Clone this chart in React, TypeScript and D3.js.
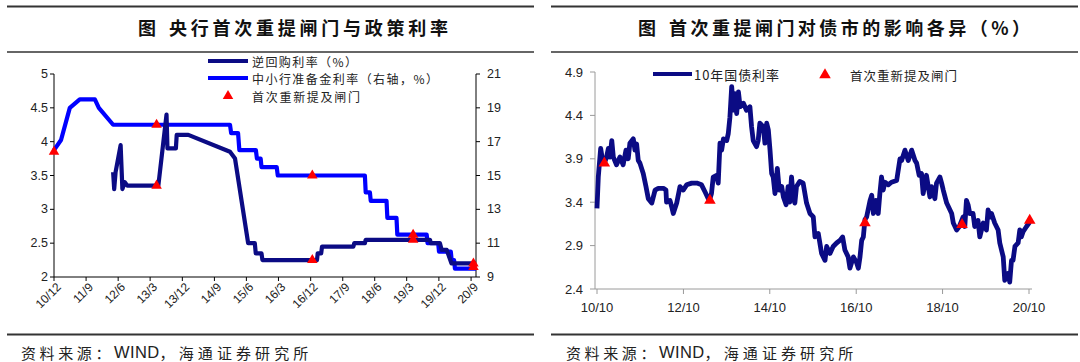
import React from "react";
import * as d3 from "d3";

// ---------- Left chart data ----------
const leftTickLabels = ["10/12", "11/9", "12/6", "13/3", "13/12", "14/9", "15/6", "16/3", "16/12", "17/9", "18/6", "19/3", "19/12", "20/9"];
const leftYTicks = [2, 2.5, 3, 3.5, 4, 4.5, 5];
const rightYTicks = [9, 11, 13, 15, 17, 19, 21];

// 7-day reverse repo rate (%)
const repoRate: [string, number][] = [
  ["2012-04-19", 3.55], ["2012-04-28", 3.3], ["2012-05-10", 3.55], ["2012-06-22", 3.95],
  ["2012-07-07", 3.3], ["2012-07-28", 3.4], ["2012-08-19", 3.35], ["2013-05-10", 3.35],
  ["2013-07-19", 4.4], ["2013-07-27", 3.9], ["2013-10-07", 3.9], ["2013-10-14", 4.1],
  ["2014-01-21", 4.1], ["2015-01-12", 3.85], ["2015-02-24", 3.75], ["2015-06-16", 2.5],
  ["2015-08-12", 2.5], ["2015-08-20", 2.35], ["2015-10-08", 2.35], ["2015-10-16", 2.25],
  ["2017-01-24", 2.25], ["2017-01-30", 2.35], ["2017-03-01", 2.35], ["2017-03-08", 2.45],
  ["2017-12-01", 2.45], ["2017-12-08", 2.5], ["2018-03-09", 2.5], ["2018-03-16", 2.55],
  ["2019-09-16", 2.55], ["2019-09-23", 2.5], ["2019-12-10", 2.5], ["2019-12-25", 2.4],
  ["2020-02-06", 2.4], ["2020-03-18", 2.2], ["2020-10-13", 2.2],
];

// Small/medium bank reserve requirement ratio (%, right axis)
const reserveRatio: [string, number][] = [
  ["2010-12-01", 16.5], ["2011-01-30", 17.1], ["2011-04-15", 19.0], ["2011-07-09", 19.5],
  ["2011-11-15", 19.5], ["2011-12-19", 19.0], ["2012-04-19", 18.0], ["2015-01-12", 18.0],
  ["2015-01-22", 17.5], ["2015-03-22", 17.5], ["2015-04-02", 16.5], ["2015-08-21", 16.5],
  ["2015-08-30", 16.0], ["2015-10-01", 16.0], ["2015-10-08", 15.5], ["2016-02-15", 15.5],
  ["2016-02-24", 15.0], ["2018-03-09", 15.0], ["2018-03-16", 14.0], ["2018-04-21", 14.0],
  ["2018-04-28", 13.5], ["2018-09-10", 13.5], ["2018-09-17", 12.5], ["2018-12-04", 12.5],
  ["2018-12-11", 11.5], ["2019-08-19", 11.5], ["2019-08-26", 11.0], ["2019-11-25", 11.0],
  ["2019-12-02", 10.5], ["2020-03-12", 10.5], ["2020-03-19", 10.0], ["2020-04-09", 10.0],
  ["2020-04-16", 9.5], ["2020-10-13", 9.5],
];

const gateOnRepo: [string, number][] = [
  ["2013-04-25", 3.35], ["2016-12-15", 2.25], ["2019-04-25", 2.55], ["2020-09-21", 2.2],
];
const gateOnReserve: [string, number][] = [
  ["2010-12-01", 16.4], ["2013-04-25", 18.0], ["2016-12-15", 15.0], ["2019-04-25", 11.5], ["2020-09-21", 9.6],
];

// ---------- Right chart data ----------
const bondXTickLabels = ["10/10", "12/10", "14/10", "16/10", "18/10", "20/10"];
const bondYTicks = [2.4, 2.9, 3.4, 3.9, 4.4, 4.9];

// 10Y government bond yield (%)
const bondYield: [string, number][] = [
  ["2010-10-01", 3.33], ["2010-10-12", 3.69], ["2010-11-01", 4.02], ["2010-11-15", 3.9],
  ["2010-12-02", 3.85], ["2010-12-21", 3.92], ["2011-01-05", 4.02], ["2011-01-19", 3.92],
  ["2011-02-03", 4.11], ["2011-02-16", 3.92], ["2011-03-15", 3.83], ["2011-04-13", 3.92],
  ["2011-05-10", 3.83], ["2011-06-03", 4.0], ["2011-06-22", 3.9], ["2011-07-06", 4.08],
  ["2011-08-04", 4.13], ["2011-08-18", 4.0], ["2011-09-01", 4.07], ["2011-09-15", 3.88],
  ["2011-09-29", 3.85], ["2011-10-27", 3.73], ["2011-11-19", 3.58], ["2011-12-09", 3.44],
  ["2012-01-07", 3.39], ["2012-02-04", 3.54], ["2012-03-02", 3.56], ["2012-04-14", 3.56],
  ["2012-05-06", 3.54], ["2012-05-11", 3.4], ["2012-06-09", 3.42], ["2012-06-23", 3.35],
  ["2012-07-07", 3.27], ["2012-08-05", 3.39], ["2012-09-02", 3.58], ["2012-09-30", 3.54],
  ["2012-10-28", 3.6], ["2012-12-10", 3.62], ["2013-01-22", 3.62], ["2013-03-03", 3.6],
  ["2013-04-01", 3.52], ["2013-04-29", 3.44], ["2013-05-13", 3.44], ["2013-05-26", 3.5],
  ["2013-06-10", 3.69], ["2013-07-08", 3.71], ["2013-07-22", 3.62], ["2013-08-06", 4.08],
  ["2013-08-20", 4.0], ["2013-09-04", 4.13], ["2013-10-02", 4.11], ["2013-10-15", 4.19],
  ["2013-10-29", 4.38], ["2013-11-13", 4.73], ["2013-11-27", 4.46], ["2013-12-11", 4.65],
  ["2013-12-25", 4.42], ["2014-01-09", 4.67], ["2014-01-23", 4.5], ["2014-02-20", 4.54],
  ["2014-03-18", 4.46], ["2014-04-16", 4.5], ["2014-04-30", 4.27], ["2014-05-14", 4.11],
  ["2014-06-11", 4.04], ["2014-06-25", 4.11], ["2014-07-09", 4.31], ["2014-08-07", 4.27],
  ["2014-08-21", 4.08], ["2014-09-05", 4.31], ["2014-09-19", 4.23], ["2014-10-03", 4.0],
  ["2014-10-17", 3.73], ["2014-10-30", 3.69], ["2014-11-14", 3.5], ["2014-12-04", 3.79],
  ["2014-12-20", 3.54], ["2015-01-10", 3.58], ["2015-01-24", 3.46], ["2015-02-16", 3.37],
  ["2015-03-05", 3.58], ["2015-03-19", 3.4], ["2015-04-03", 3.69], ["2015-04-17", 3.46],
  ["2015-05-01", 3.39], ["2015-05-15", 3.58], ["2015-06-12", 3.64], ["2015-07-10", 3.62],
  ["2015-08-08", 3.39], ["2015-09-06", 3.27], ["2015-10-04", 3.23], ["2015-10-18", 3.0],
  ["2015-11-15", 3.04], ["2015-12-13", 2.81], ["2016-01-11", 2.73], ["2016-01-25", 2.89],
  ["2016-02-22", 2.81], ["2016-03-20", 2.89], ["2016-04-18", 2.93], ["2016-05-16", 2.96],
  ["2016-06-08", 3.0], ["2016-06-27", 2.85], ["2016-07-25", 2.77], ["2016-08-09", 2.64],
  ["2016-09-07", 2.77], ["2016-10-05", 2.7], ["2016-10-19", 2.64], ["2016-11-02", 2.77],
  ["2016-11-16", 2.96], ["2016-11-30", 3.0], ["2016-12-14", 3.2], ["2016-12-28", 3.23],
  ["2017-01-26", 3.42], ["2017-02-09", 3.48], ["2017-02-23", 3.27], ["2017-03-16", 3.42],
  ["2017-04-05", 3.27], ["2017-04-19", 3.5], ["2017-05-03", 3.69], ["2017-05-17", 3.54],
  ["2017-06-01", 3.63], ["2017-06-29", 3.6], ["2017-07-26", 3.63], ["2017-09-08", 3.65],
  ["2017-10-06", 3.9], ["2017-10-20", 3.88], ["2017-11-17", 4.0], ["2017-12-15", 3.88],
  ["2018-01-13", 4.0], ["2018-02-10", 3.88], ["2018-02-24", 3.85], ["2018-03-17", 3.71],
  ["2018-04-06", 3.73], ["2018-04-20", 3.5], ["2018-05-18", 3.71], ["2018-06-16", 3.46],
  ["2018-06-30", 3.58], ["2018-07-28", 3.44], ["2018-08-11", 3.62], ["2018-09-09", 3.69],
  ["2018-09-23", 3.62], ["2018-10-07", 3.54], ["2018-11-05", 3.39], ["2018-11-19", 3.35],
  ["2018-12-17", 3.27], ["2018-12-31", 3.16], ["2019-01-28", 3.08], ["2019-02-20", 3.12],
  ["2019-03-24", 3.23], ["2019-04-07", 3.12], ["2019-04-21", 3.42], ["2019-05-05", 3.37],
  ["2019-05-19", 3.27], ["2019-06-16", 3.27], ["2019-06-30", 3.12], ["2019-07-28", 3.19],
  ["2019-08-12", 3.0], ["2019-09-10", 3.16], ["2019-10-07", 3.08], ["2019-10-21", 3.31],
  ["2019-11-10", 3.23], ["2019-11-19", 3.27], ["2019-12-16", 3.16], ["2020-01-14", 3.08],
  ["2020-01-28", 2.93], ["2020-02-26", 2.77], ["2020-03-10", 2.5], ["2020-04-07", 2.58],
  ["2020-04-21", 2.48], ["2020-05-06", 2.73], ["2020-05-19", 2.73], ["2020-06-04", 2.89],
  ["2020-07-01", 2.93], ["2020-07-15", 3.08], ["2020-07-28", 3.0], ["2020-08-12", 3.06],
  ["2020-09-10", 3.12], ["2020-10-07", 3.17],
];

const bondGateMarks: [string, number][] = [
  ["2010-12-02", 3.85], ["2013-05-13", 3.42], ["2016-12-14", 3.16], ["2019-03-15", 3.14], ["2020-10-07", 3.19],
];

const NAVY = "#0b0b84";
const BLUE = "#0000ff";
const RED = "#ff0000";
const CJK = "'Noto Sans CJK SC', 'Noto Sans', sans-serif";
const LAT = "'Liberation Sans', Arial, sans-serif";

const parseDate = d3.timeParse("%Y-%m-%d");
const parseYM = (s: string) => {
  const [y, m] = s.split("/").map(Number);
  return new Date(2000 + y, m - 1, 1);
};

function SourceNote({ x, y }: { x: number; y: number }) {
  return (
    <text x={x} y={y} dominantBaseline="central" fill="#222" fontSize={15} fontFamily={CJK}>
      <tspan letterSpacing={3.6}>资料来源：</tspan>
      <tspan fontFamily={LAT} fontSize={16.5} letterSpacing={0.4}>WIND</tspan>
      <tspan letterSpacing={4.1}>，海通证券研究所</tspan>
    </text>
  );
}

export default function App() {
  // Left chart scales
  const xL = d3.scaleTime().domain([new Date(2010, 11, 1), new Date(2020, 9, 13)]).range([54, 476]);
  const yL = d3.scaleLinear().domain([2, 5]).range([277, 74]);
  const yR = d3.scaleLinear().domain([9, 21]).range([277, 74]);
  // Right chart scales
  const xB = d3.scaleTime().domain([new Date(2010, 9, 1), new Date(2020, 9, 1)]).range([597, 1029]);
  const yB = d3.scaleLinear().domain([2.4, 4.9]).range([289, 72]);

  const repoLine = d3.line<[string, number]>().x((d) => xL(parseDate(d[0])!)).y((d) => yL(d[1]));
  const resLine = d3.line<[string, number]>().x((d) => xL(parseDate(d[0])!)).y((d) => yR(d[1]));
  const bondLine = d3.line<[string, number]>().x((d) => xB(parseDate(d[0])!)).y((d) => yB(d[1]));

  const triSmall = d3.symbol().type(d3.symbolTriangle).size(48)()!;
  const triBig = d3.symbol().type(d3.symbolTriangle).size(58)()!;

  return (
    <div style={{ position: "absolute", left: 0, top: 0 }}>
      <svg width={1080} height={362} style={{ display: "block", background: "#fff" }}>
        {/* ===== Left panel frame ===== */}
        <line x1={7} x2={534} y1={6.5} y2={6.5} stroke="#333" strokeWidth={2} />
        <line x1={7} x2={534} y1={52} y2={52} stroke="#333" strokeWidth={1.5} />
        <text x={138} y={27} fontFamily={CJK} fontWeight={700} fontSize={18} dominantBaseline="central" fill="#111">图</text>
        <text x={169} y={27} fontFamily={CJK} fontWeight={700} fontSize={18} dominantBaseline="central" fill="#111"
          textLength={279} lengthAdjust="spacing">央行首次重提闸门与政策利率</text>
        <line x1={7} x2={534} y1={334.5} y2={334.5} stroke="#333" strokeWidth={2} />
        <SourceNote x={21} y={352} />

        {/* ===== Left chart axes ===== */}
        <g stroke="#000" strokeWidth={1}>
          <line x1={54} x2={54} y1={74} y2={277} />
          <line x1={476} x2={476} y1={74} y2={277} />
          <line x1={54} x2={476} y1={277} y2={277} />
          {leftYTicks.map((t) => (
            <line key={"lt" + t} x1={50} x2={54} y1={yL(t)} y2={yL(t)} />
          ))}
          {rightYTicks.map((t) => (
            <line key={"rt" + t} x1={476} x2={480} y1={yR(t)} y2={yR(t)} />
          ))}
          {leftTickLabels.map((l) => (
            <line key={"xt" + l} x1={xL(parseYM(l))} x2={xL(parseYM(l))} y1={277} y2={281} />
          ))}
        </g>
        {leftYTicks.map((t) => (
          <text key={"ll" + t} x={48} y={yL(t)} textAnchor="end" dominantBaseline="central"
            fontFamily={LAT} fontSize={12.5} fill="#222">{String(t)}</text>
        ))}
        {rightYTicks.map((t) => (
          <text key={"rl" + t} x={487} y={yR(t)} textAnchor="start" dominantBaseline="central"
            fontFamily={LAT} fontSize={12.5} fill="#222">{t}</text>
        ))}
        {leftTickLabels.map((l) => {
          const x = xL(parseYM(l));
          return (
            <text key={"xl" + l} transform={`translate(${x + 5},${285}) rotate(-45)`} textAnchor="end"
              dominantBaseline="central" fontFamily={LAT} fontSize={12} fill="#222">{l}</text>
          );
        })}

        {/* ===== Left chart series ===== */}
        <path d={resLine(reserveRatio)!} fill="none" stroke={BLUE} strokeWidth={4.2} strokeLinejoin="round" />
        <path d={repoLine(repoRate)!} fill="none" stroke={NAVY} strokeWidth={4.2} strokeLinejoin="round" />
        {gateOnReserve.map((d, i) => (
          <path key={"gr" + i} d={triSmall} fill={RED}
            transform={`translate(${xL(parseDate(d[0])!)},${yR(d[1])})`} />
        ))}
        {gateOnRepo.map((d, i) => (
          <path key={"gp" + i} d={triSmall} fill={RED}
            transform={`translate(${xL(parseDate(d[0])!)},${yL(d[1])})`} />
        ))}

        {/* ===== Left legend ===== */}
        <line x1={208} x2={248} y1={61} y2={61} stroke={NAVY} strokeWidth={4.2} />
        <text x={252} y={61} fontFamily={CJK} fontSize={12} dominantBaseline="central" fill="#222"
          textLength={105} lengthAdjust="spacing">逆回购利率（%）</text>
        <line x1={208} x2={248} y1={78} y2={78} stroke={BLUE} strokeWidth={4.2} />
        <text x={252} y={78} fontFamily={CJK} fontSize={12} dominantBaseline="central" fill="#222"
          textLength={186} lengthAdjust="spacing">中小行准备金利率（右轴，%）</text>
        <path d={triSmall} fill={RED} transform="translate(228,96)" />
        <text x={252} y={96} fontFamily={CJK} fontSize={12} dominantBaseline="central" fill="#222"
          textLength={108} lengthAdjust="spacing">首次重新提及闸门</text>

        {/* ===== Right panel frame ===== */}
        <line x1={551} x2={1078} y1={6.5} y2={6.5} stroke="#333" strokeWidth={2} />
        <line x1={551} x2={1078} y1={52} y2={52} stroke="#333" strokeWidth={1.5} />
        <text x={638} y={27} fontFamily={CJK} fontWeight={700} fontSize={18} dominantBaseline="central" fill="#111">图</text>
        <text x={669} y={27} fontFamily={CJK} fontWeight={700} fontSize={18} dominantBaseline="central" fill="#111"
          textLength={361} lengthAdjust="spacing">首次重提闸门对债市的影响各异（%）</text>
        <line x1={551} x2={1078} y1={334.5} y2={334.5} stroke="#333" strokeWidth={2} />
        <SourceNote x={566} y={352} />

        {/* ===== Right chart axes ===== */}
        <g stroke="#9a9a9a" strokeWidth={1}>
          <line x1={595} x2={595} y1={72} y2={289} />
          <line x1={595} x2={1032} y1={289} y2={289} />
          {bondYTicks.map((t) => (
            <line key={"bt" + t} x1={590} x2={595} y1={yB(t)} y2={yB(t)} />
          ))}
          {bondXTickLabels.map((l) => (
            <line key={"bx" + l} x1={xB(parseYM(l))} x2={xB(parseYM(l))} y1={289} y2={294} />
          ))}
        </g>
        {bondYTicks.map((t) => (
          <text key={"bl" + t} x={583} y={yB(t)} textAnchor="end" dominantBaseline="central"
            fontFamily={LAT} fontSize={13} fill="#222">{t.toFixed(1)}</text>
        ))}
        {bondXTickLabels.map((l) => (
          <text key={"bxl" + l} x={xB(parseYM(l))} y={307} textAnchor="middle" dominantBaseline="central"
            fontFamily={LAT} fontSize={13} fill="#222">{l}</text>
        ))}

        {/* ===== Right chart series ===== */}
        <path d={bondLine(bondYield)!} fill="none" stroke={NAVY} strokeWidth={4.8} strokeLinejoin="round" />
        {bondGateMarks.map((d, i) => (
          <path key={"bg" + i} d={triBig} fill={RED}
            transform={`translate(${xB(parseDate(d[0])!)},${yB(d[1])})`} />
        ))}

        {/* ===== Right legend ===== */}
        <line x1={653} x2={692} y1={74} y2={74} stroke={NAVY} strokeWidth={4} />
        <text x={694} y={74} fontFamily={CJK} fontSize={13} dominantBaseline="central" fill="#222"
          textLength={85} lengthAdjust="spacing">10年国债利率</text>
        <path d={triBig} fill={RED} transform="translate(825,75)" />
        <text x={850} y={75} fontFamily={CJK} fontSize={12.5} dominantBaseline="central" fill="#222"
          textLength={107} lengthAdjust="spacing">首次重新提及闸门</text>
      </svg>
    </div>
  );
}
